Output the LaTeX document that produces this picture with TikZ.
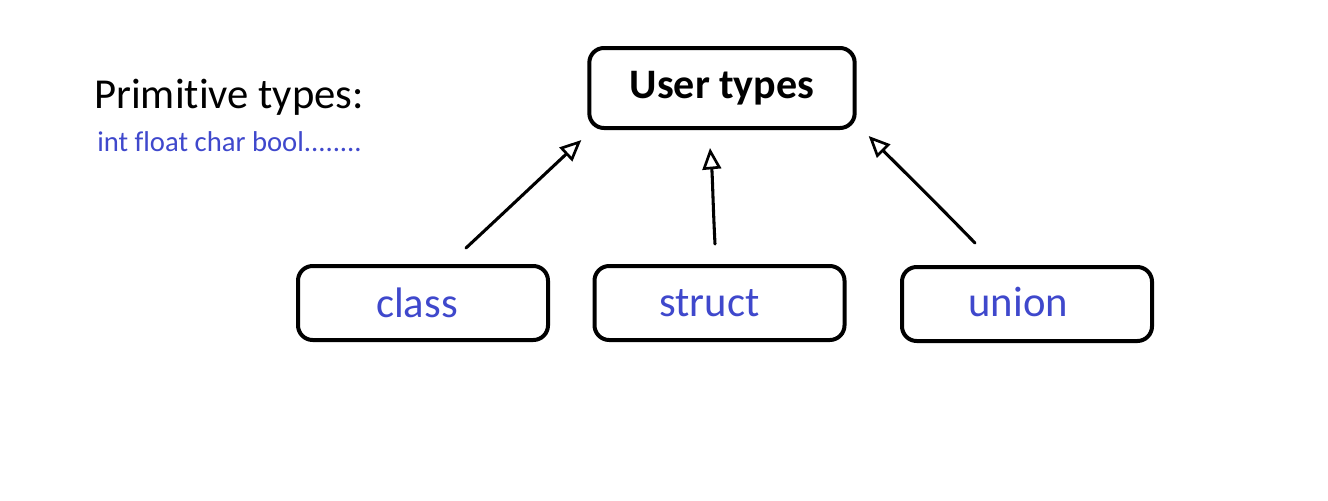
\documentclass[tikz,border=0pt]{standalone}
\usepackage{fontspec}
\setmainfont{Carlito}[Ligatures={NoCommon}]
\usetikzlibrary{arrows.meta,calc}
\definecolor{ink}{RGB}{63,72,204}
\begin{document}
\begin{tikzpicture}[x=0.75pt,y=-0.75pt,
  box/.style={draw, line width=3pt, rounded corners=11pt, inner sep=0pt,
    minimum width=187.5pt, minimum height=55.5pt,
    font=\fontsize{32}{38}\selectfont},
  kind/.style={box, text=ink},
  conn/.style={line width=2.3pt, line cap=round, line join=round,
    -{Triangle[open, length=16pt, width=14pt, line width=2pt]}},
  heading/.style={anchor=base west, inner sep=0pt, font=\fontsize{32}{38}\selectfont},
  sub/.style={anchor=base west, inner sep=0pt, text=ink, font=\fontsize{21.5}{26}\selectfont}]
\useasboundingbox (0,0) rectangle (1328,500);

\node[heading] (prim) at (94,108) {Primitive types:};
\node[sub] (list) at (97,151) {int float char bool........};

\node[box, minimum width=199pt, minimum height=60pt, font=\fontsize{31.5}{38}\selectfont\bfseries] (user) at (722,88) {User types};
\node[kind] (class) at (423,303) {class\kern9pt};
\node[kind] (struct) at (719.5,303) {struct\kern15pt};
\node[kind] (union) at (1027,304) {\raisebox{3pt}{union}\kern13pt};

\coordinate (a1s) at ($(class.north)+(43,-16)$);
\coordinate (a1e) at ($(user.south west)+(-6,10)$);
\coordinate (a2s) at ($(struct.north)+(-4.5,-20)$);
\coordinate (a2e) at ($(user.south)+(-12,18)$);
\coordinate (a3s) at ($(union.north)+(-52,-22)$);
\coordinate (a3e) at ($(user.south east)+(12,6)$);

\draw[conn] (a1s) .. controls ($(a1s)!0.4!(a1e)+(-3,3)$) and ($(a1s)!0.7!(a1e)+(2,-2)$) .. (a1e);
\draw[conn] (a2s) .. controls ($(a2s)!0.4!(a2e)+(0,0)$) and ($(a2s)!0.7!(a2e)+(1,0)$) .. (a2e);
\draw[conn] (a3s) .. controls ($(a3s)!0.4!(a3e)+(-2,-3)$) and ($(a3s)!0.7!(a3e)+(1,1)$) .. (a3e);
\end{tikzpicture}
\end{document}
